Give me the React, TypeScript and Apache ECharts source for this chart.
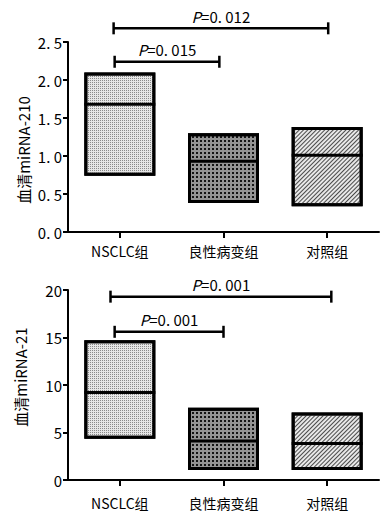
import React, { useEffect, useRef } from "react";
import * as echarts from "echarts";

const categories = ["NSCLC组", "良性病变组", "对照组"];

const lows210 = [0.74, 0.38, 0.34];
const medians210 = [1.68, 0.93, 1.01];
const highs210 = [2.1, 1.3, 1.38];

const lows21 = [4.35, 1.05, 1.05];
const medians21 = [9.2, 4.1, 3.85];
const highs21 = [14.7, 7.6, 7.1];

const yTicks210 = ["0. 0", "0. 5", "1. 0", "1. 5", "2. 0", "2. 5"];
const yTicks21 = ["0", "5", "10", "15", "20"];

const brackets210 = [
  { from: -0.06, to: 2.01, y: 2.68, p: "0. 012" },
  { from: -0.05, to: 0.96, y: 2.24, p: "0. 015" },
];
const brackets21 = [
  { from: -0.09, to: 2.04, y: 19.3, p: "0. 001" },
  { from: -0.05, to: 1.0, y: 15.6, p: "0. 001" },
];

const FONT = '"Noto Sans CJK SC", "DejaVu Sans", sans-serif';
const BAR_W = 71;

const fills = [
  {
    color: "#e6e6e6",
    decal: { symbol: "rect", symbolSize: 1, color: "#8a8a8a", dashArrayX: [1, 1], dashArrayY: [1, 1], rotation: 0 },
  },
  {
    color: "#949494",
    decal: { symbol: "rect", symbolSize: 1, color: "#141414", dashArrayX: [2, 2], dashArrayY: [2, 2], rotation: 0 },
  },
  {
    color: "#e8e8e8",
    decal: { symbol: "rect", symbolSize: 1, color: "#4a4a4a", dashArrayX: [1, 0], dashArrayY: [1, 1.6], rotation: -Math.PI / 4 },
  },
];

function boxSeries(lows: number[], medians: number[], highs: number[], idx: number) {
  const stack = "box" + idx;
  const base = {
    type: "bar",
    xAxisIndex: idx,
    yAxisIndex: idx,
    stack,
    barWidth: BAR_W,
    silent: true,
    itemStyle: { color: "transparent", borderWidth: 0 },
    data: lows,
  };
  const range = {
    type: "bar",
    xAxisIndex: idx,
    yAxisIndex: idx,
    stack,
    barWidth: BAR_W,
    data: highs.map((h, i) => ({
      value: h - lows[i],
      itemStyle: { color: fills[i].color, decal: fills[i].decal, borderColor: "#000", borderWidth: 3 },
    })),
  };
  const median = {
    type: "custom",
    xAxisIndex: idx,
    yAxisIndex: idx,
    silent: true,
    z: 5,
    data: medians.map((m, i) => [i, m]),
    renderItem: (params: any, api: any) => {
      const p = api.coord([api.value(0), api.value(1)]);
      return {
        type: "line",
        shape: { x1: p[0] - BAR_W / 2, y1: p[1], x2: p[0] + BAR_W / 2, y2: p[1] },
        style: { stroke: "#000", lineWidth: 3 },
      };
    },
  };
  return [base, range, median];
}

function bracketSeries(brackets: { from: number; to: number; y: number; p: string }[], idx: number) {
  return {
    type: "custom",
    xAxisIndex: idx,
    yAxisIndex: idx,
    clip: false,
    silent: true,
    data: brackets.map((b) => [0, b.y]),
    renderItem: (params: any, api: any) => {
      const b = brackets[params.dataIndex];
      const p0 = api.coord([0, b.y]);
      const bw = api.size([1, 0])[0];
      const x1 = p0[0] + b.from * bw;
      const x2 = p0[0] + b.to * bw;
      const y = p0[1];
      const ls = { stroke: "#000", lineWidth: 2.5 };
      return {
        type: "group",
        children: [
          { type: "line", shape: { x1, y1: y, x2, y2: y }, style: ls },
          { type: "line", shape: { x1, y1: y - 6, x2: x1, y2: y + 6 }, style: ls },
          { type: "line", shape: { x1: x2, y1: y - 6, x2, y2: y + 6 }, style: ls },
          {
            type: "text",
            x: (x1 + x2) / 2,
            y: y - 12,
            style: {
              text: "{i|P}=" + b.p,
              rich: { i: { fontStyle: "italic", fontSize: 15, fontFamily: FONT, fill: "#000" } },
              fontSize: 15,
              fontFamily: FONT,
              fill: "#000",
              align: "center",
              verticalAlign: "middle",
            },
          },
        ],
      };
    },
  };
}

export default function App() {
  const ref = useRef<HTMLDivElement>(null);
  useEffect(() => {
    if (!ref.current) return;
    const chart = echarts.init(ref.current, undefined, { renderer: "svg" });
    const axisLine = { show: true, lineStyle: { color: "#000", width: 2 } };
    const xAxisBase = (idx: number, margin: number) => ({
      type: "category",
      gridIndex: idx,
      data: categories,
      axisLine,
      axisTick: { show: true, alignWithLabel: true, length: 6, lineStyle: { color: "#000", width: 2 } },
      axisLabel: { color: "#000", fontSize: 14, fontFamily: FONT, margin },
    });
    const yAxisBase = (idx: number, max: number, interval: number, ticks: string[]) => ({
      type: "value",
      gridIndex: idx,
      min: 0,
      max,
      interval,
      axisLine,
      splitLine: { show: false },
      axisTick: { show: true, length: 5, lineStyle: { color: "#000", width: 2 } },
      axisLabel: {
        color: "#000",
        fontSize: 15,
        fontFamily: FONT,
        margin: 6,
        formatter: (v: number) => ticks[Math.round(v / interval)],
      },
    });
    chart.setOption({
      animation: false,
      textStyle: { fontFamily: FONT },
      grid: [
        { left: 68, top: 42, width: 311, height: 190 },
        { left: 68, top: 290, width: 311, height: 190 },
      ],
      xAxis: [xAxisBase(0, 12), xAxisBase(1, 16)],
      yAxis: [yAxisBase(0, 2.5, 0.5, yTicks210), yAxisBase(1, 20, 5, yTicks21)],
      graphic: [
        {
          type: "text",
          x: 23,
          y: 150,
          rotation: Math.PI / 2,
          style: { text: "血清miRNA-210", fontSize: 15, fontFamily: FONT, fill: "#000", align: "center", verticalAlign: "middle" },
        },
        {
          type: "text",
          x: 20,
          y: 377,
          rotation: Math.PI / 2,
          style: { text: "血清miRNA-21", fontSize: 15, fontFamily: FONT, fill: "#000", align: "center", verticalAlign: "middle" },
        },
      ],
      series: [
        ...boxSeries(lows210, medians210, highs210, 0),
        ...boxSeries(lows21, medians21, highs21, 1),
        bracketSeries(brackets210, 0),
        bracketSeries(brackets21, 1),
      ],
    });
    return () => chart.dispose();
  }, []);
  return (
    <div
      ref={ref}
      style={{ position: "fixed", left: 0, top: 0, width: 381, height: 514, background: "#fff" }}
    />
  );
}
